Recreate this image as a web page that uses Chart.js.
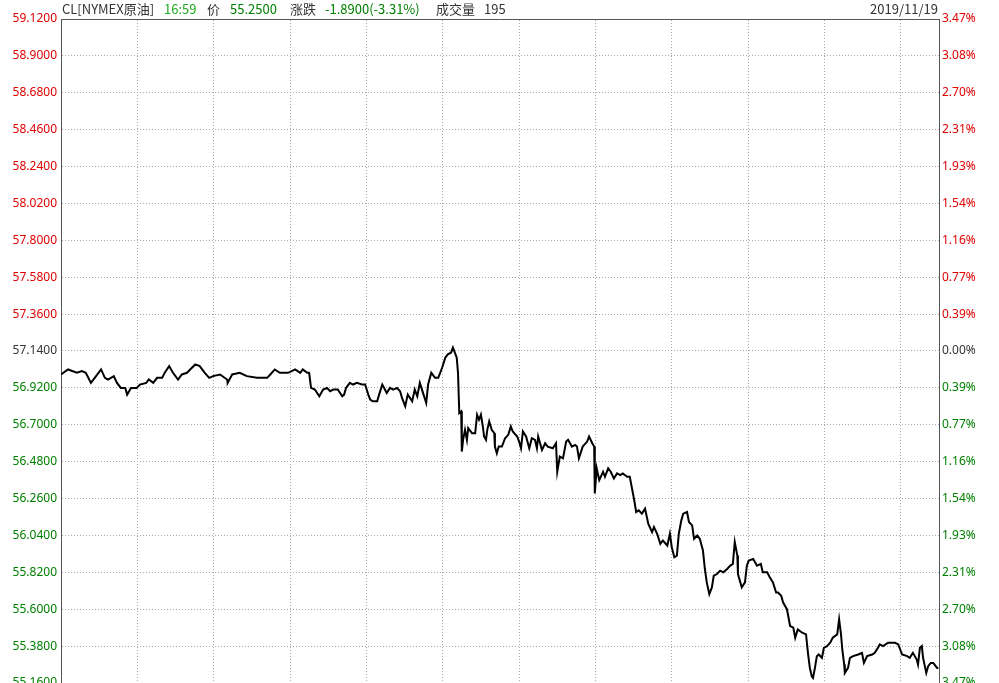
<!DOCTYPE html>
<html>
<head>
<meta charset="utf-8">
<script src="https://cdn.jsdelivr.net/npm/chart.js@4"></script>
<style>
  html, body { margin: 0; padding: 0; background: #fff; }
  #wrap { position: relative; width: 999px; height: 683px; overflow: hidden; }
  #chart { display: block; }
  #header span {
    position: absolute; top: 0; line-height: 18px; font-size: 13px; white-space: nowrap;
    font-family: "Microsoft YaHei", "Noto Sans CJK SC", "Noto Sans", sans-serif; color: #333;
  }
  .up { color: #e00000 !important; }
  .down { color: #008000 !important; }
  .time { color: #22aa22 !important; }
</style>
</head>
<body>
<div id="wrap">
  <canvas id="chart" width="999" height="683"></canvas>
  <div id="header">
    <span style="left:62px">CL[NYMEX原油]</span>
    <span class="time" style="left:164px">16:59</span>
    <span style="left:207px">价</span>
    <span class="down" style="left:230px">55.2500</span>
    <span style="left:290px">涨跌</span>
    <span class="down" style="left:325px">-1.8900(-3.31%)</span>
    <span style="left:436px">成交量</span>
    <span style="left:484px">195</span>
    <span style="right:61px">2019/11/19</span>
  </div>
</div>
<script>
const prevClose = 57.14;

// minutes since 18:00 (session open)
const times = [
  0, 11, 25, 33, 39, 47, 53, 63, 69, 74, 83, 88, 94, 101, 104, 110, 119, 124, 134, 138,
  145, 151, 159, 163, 170, 176, 184, 190, 198, 203, 211, 218, 226, 233, 239, 250, 261, 262, 269, 281,
  292, 308, 324, 329, 336, 344, 357, 368, 376, 380, 387, 390, 393, 399, 406, 412, 418, 423, 428, 435,
  442, 445, 448, 454, 459, 465, 473, 478, 483, 486, 490, 497, 500, 505, 512, 517, 522, 528, 533, 536,
  541, 545, 552, 556, 560, 564, 569, 574, 577, 582, 588, 593, 599, 604, 608, 613, 616, 619, 622, 624,
  626, 629, 630, 632, 635, 638, 640, 646, 651, 654, 657, 660, 663, 665, 668, 670, 673, 677, 681, 682,
  685, 688, 693, 698, 703, 707, 710, 717, 720, 723, 726, 731, 736, 740, 745, 748, 750, 756, 761, 765,
  773, 778, 780, 784, 789, 794, 797, 803, 808, 811, 814, 820, 827, 830, 835, 838, 839, 842, 846, 852,
  855, 860, 864, 869, 874, 879, 883, 890, 894, 897, 901, 904, 908, 913, 918, 923, 929, 932, 937, 942,
  946, 953, 957, 960, 964, 968, 971, 975, 978, 984, 987, 992, 995, 1000, 1004, 1009, 1012, 1015, 1019, 1023,
  1026, 1031, 1036, 1041, 1047, 1052, 1056, 1059, 1063, 1064, 1067, 1070, 1075, 1078, 1081, 1088, 1094, 1100, 1103, 1110,
  1114, 1119, 1124, 1127, 1132, 1135, 1141, 1146, 1151, 1154, 1158, 1165, 1171, 1174, 1177, 1180, 1182, 1185, 1188, 1191,
  1196, 1199, 1204, 1209, 1213, 1220, 1223, 1226, 1228, 1231, 1232, 1237, 1240, 1245, 1253, 1259, 1262, 1267, 1275, 1279,
  1284, 1287, 1292, 1300, 1311, 1316, 1322, 1330, 1334, 1339, 1345, 1347, 1350, 1353, 1355, 1360, 1363, 1367, 1371, 1377,
  1379
];

const prices = [
  57.00, 57.03, 57.01, 57.02, 57.01, 56.95, 56.98, 57.03, 56.98, 56.97, 56.99, 56.95, 56.92, 56.92, 56.88, 56.92, 56.92, 56.94, 56.95, 56.97,
  56.95, 56.98, 56.98, 57.01, 57.05, 57.01, 56.97, 57.00, 57.01, 57.03, 57.06, 57.05, 57.01, 56.98, 56.99, 57.00, 56.97, 56.95, 57.00, 57.01,
  56.99, 56.98, 56.98, 57.00, 57.03, 57.01, 57.01, 57.03, 57.01, 57.03, 57.01, 57.01, 56.92, 56.91, 56.87, 56.91, 56.92, 56.90, 56.91, 56.91,
  56.87, 56.88, 56.92, 56.95, 56.94, 56.95, 56.94, 56.94, 56.88, 56.85, 56.84, 56.84, 56.88, 56.94, 56.89, 56.92, 56.91, 56.92, 56.90, 56.86,
  56.81, 56.88, 56.84, 56.91, 56.87, 56.95, 56.89, 56.83, 56.94, 57.01, 56.98, 56.98, 57.04, 57.10, 57.12, 57.13, 57.16, 57.13, 57.10, 57.01,
  56.77, 56.78, 56.54, 56.61, 56.67, 56.61, 56.68, 56.65, 56.65, 56.76, 56.73, 56.76, 56.69, 56.63, 56.61, 56.67, 56.72, 56.67, 56.65, 56.57,
  56.53, 56.57, 56.57, 56.62, 56.64, 56.69, 56.66, 56.63, 56.60, 56.56, 56.66, 56.63, 56.56, 56.62, 56.61, 56.56, 56.63, 56.55, 56.59, 56.57,
  56.56, 56.59, 56.42, 56.51, 56.50, 56.60, 56.61, 56.57, 56.58, 56.57, 56.50, 56.57, 56.60, 56.63, 56.59, 56.57, 56.29, 56.44, 56.37, 56.42,
  56.39, 56.44, 56.42, 56.38, 56.41, 56.40, 56.41, 56.39, 56.39, 56.33, 56.25, 56.18, 56.19, 56.17, 56.20, 56.11, 56.06, 56.09, 56.05, 55.99,
  56.01, 55.98, 56.05, 55.97, 55.91, 55.92, 56.05, 56.13, 56.17, 56.18, 56.12, 56.10, 56.02, 56.04, 56.02, 55.95, 55.84, 55.76, 55.69, 55.73,
  55.80, 55.81, 55.83, 55.82, 55.84, 55.86, 55.87, 56.00, 55.92, 55.81, 55.77, 55.73, 55.76, 55.86, 55.89, 55.90, 55.86, 55.87, 55.82, 55.82,
  55.79, 55.76, 55.70, 55.70, 55.68, 55.64, 55.60, 55.50, 55.49, 55.43, 55.48, 55.46, 55.45, 55.34, 55.25, 55.20, 55.19, 55.25, 55.32, 55.33,
  55.31, 55.37, 55.38, 55.40, 55.43, 55.45, 55.54, 55.45, 55.36, 55.27, 55.22, 55.25, 55.31, 55.32, 55.33, 55.34, 55.28, 55.32, 55.33, 55.34,
  55.37, 55.39, 55.38, 55.40, 55.40, 55.39, 55.33, 55.32, 55.31, 55.34, 55.30, 55.27, 55.37, 55.38, 55.31, 55.22, 55.26, 55.28, 55.28, 55.25,
  55.25
];

const priceTicks = [
  55.16, 55.38, 55.60, 55.82, 56.04, 56.26, 56.48, 56.70, 56.92, 57.14,
  57.36, 57.58, 57.80, 58.02, 58.24, 58.46, 58.68, 58.90, 59.12
];

const pctLabels = [
  "3.47%", "3.08%", "2.70%", "2.31%", "1.93%", "1.54%", "1.16%", "0.77%", "0.39%", "0.00%",
  "0.39%", "0.77%", "1.16%", "1.54%", "1.93%", "2.31%", "2.70%", "3.08%", "3.47%"
];

// vertical grid every two hours
const gridTimes = [120, 240, 360, 480, 600, 720, 840, 960, 1080, 1200, 1320];

const sessionMinutes = 1380;

function tickColor(value) {
  if (Math.abs(value - prevClose) < 0.001) return "#333";
  return value > prevClose ? "#e00000" : "#008000";
}

// let the bottom label hang off the canvas like the original
function noPadding(scale) {
  scale.paddingTop = 0;
  scale.paddingBottom = 0;
}

const labelFont = { family: "'Microsoft YaHei', 'Noto Sans', sans-serif", size: 12 };

new Chart(document.getElementById("chart"), {
  type: "line",
  data: {
    datasets: [{
      data: times.map((t, i) => ({ x: t, y: prices[i] })),
      borderColor: "#000",
      borderWidth: 2,
      pointRadius: 0,
      tension: 0,
      fill: false
    }]
  },
  options: {
    responsive: false,
    animation: false,
    layout: { padding: 0 },
    plugins: { legend: { display: false }, tooltip: { enabled: false } },
    scales: {
      x: {
        type: "linear",
        position: "top",
        min: 0,
        max: sessionMinutes,
        afterBuildTicks: (scale) => {
          scale.ticks = gridTimes.map((v) => ({ value: v }));
        },
        afterFit: (scale) => { scale.height = 19; scale.paddingLeft = 0; scale.paddingRight = 0; },
        ticks: { display: false },
        grid: { color: "#aaa", drawTicks: false, tickLength: 0 },
        border: { color: "#555", width: 1, dash: [1, 2] }
      },
      y: {
        type: "linear",
        position: "left",
        min: 55.16,
        max: 59.12,
        afterBuildTicks: (scale) => {
          scale.ticks = priceTicks.map((v) => ({ value: v }));
        },
        afterFit: (scale) => { scale.width = 61; noPadding(scale); },
        ticks: {
          padding: 4,
          font: labelFont,
          color: (ctx) => tickColor(ctx.tick.value),
          callback: (value, index) => priceTicks[index].toFixed(4)
        },
        grid: {
          drawTicks: false,
          tickLength: 0,
          color: (ctx) => (ctx.tick && ctx.tick.value === 59.12 ? "rgba(0,0,0,0)" : "#aaa")
        },
        border: { color: "#555", width: 1, dash: [1, 2] }
      },
      y2: {
        type: "linear",
        position: "right",
        min: 55.16,
        max: 59.12,
        afterBuildTicks: (scale) => {
          scale.ticks = priceTicks.map((v) => ({ value: v }));
        },
        afterFit: (scale) => { scale.width = 60; noPadding(scale); },
        ticks: {
          padding: 3,
          font: labelFont,
          color: (ctx) => tickColor(ctx.tick.value),
          callback: (value, index) => pctLabels[index]
        },
        grid: { display: false, drawTicks: false, tickLength: 0 },
        border: { color: "#555", width: 1 }
      }
    }
  }
});
</script>
</body>
</html>
